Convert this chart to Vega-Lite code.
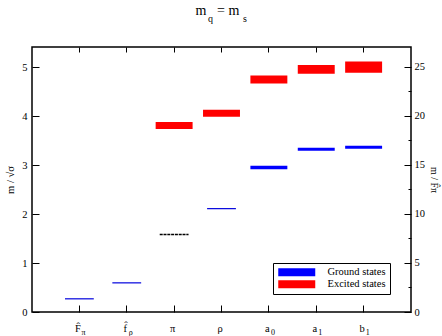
{
  "$schema": "https://vega.github.io/schema/vega-lite/v6.json",
  "width": 379,
  "height": 265,
  "autosize": {"type": "none"},
  "padding": {"left": 32, "top": 47, "right": 31, "bottom": 24},
  "background": "white",
  "config": {
    "font": "Liberation Serif",
    "view": {"stroke": "black", "strokeWidth": 1.5},
    "axis": {
      "grid": false,
      "domain": false,
      "ticks": true,
      "tickColor": "black",
      "tickWidth": 1,
      "labelColor": "black",
      "labelFont": "Liberation Serif",
      "labelFontSize": 10.5,
      "titleFont": "Liberation Serif",
      "titleFontSize": 10.5,
      "titleFontWeight": "normal",
      "titleColor": "black"
    }
  },
  "datasets": {
    "bands": [
      {"c": "a0", "state": "Ground states", "lo": 2.912, "hi": 2.987},
      {"c": "a1", "state": "Ground states", "lo": 3.293, "hi": 3.354},
      {"c": "b1", "state": "Ground states", "lo": 3.334, "hi": 3.395},
      {"c": "pi", "state": "Excited states", "lo": 3.736, "hi": 3.879},
      {"c": "rho", "state": "Excited states", "lo": 3.987, "hi": 4.13},
      {"c": "a0", "state": "Excited states", "lo": 4.666, "hi": 4.829},
      {"c": "a1", "state": "Excited states", "lo": 4.863, "hi": 5.041},
      {"c": "b1", "state": "Excited states", "lo": 4.886, "hi": 5.114}
    ],
    "lines": [
      {"c": "Fpi", "m": 0.269, "style": "solid"},
      {"c": "frho", "m": 0.595, "style": "solid"},
      {"c": "pi", "m": 1.58, "style": "dotted"},
      {"c": "rho", "m": 2.11, "style": "solid"}
    ],
    "labels": [
      {"c": "Fpi", "main": "F̂", "sub": "π"},
      {"c": "frho", "main": "f̂", "sub": "ρ"},
      {"c": "pi", "main": "π", "sub": ""},
      {"c": "rho", "main": "ρ", "sub": ""},
      {"c": "a0", "main": "a", "sub": "0"},
      {"c": "a1", "main": "a", "sub": "1"},
      {"c": "b1", "main": "b", "sub": "1"}
    ]
  },
  "layer": [
    {
      "layer": [
        {
          "data": {"name": "bands"},
          "mark": {"type": "bar"},
          "encoding": {
            "x": {
              "field": "c",
              "type": "nominal",
              "scale": {"domain": ["Fpi", "frho", "pi", "rho", "a0", "a1", "b1"], "paddingInner": 0.22, "paddingOuter": 0.61},
              "axis": {"title": null, "labels": false, "ticks": true, "tickSize": -7, "tickBand": "center"}
            },
            "y": {
              "field": "lo",
              "type": "quantitative",
              "scale": {"domain": [0, 5.41], "nice": false, "zero": false},
              "axis": {
                "title": "m / √σ",
                "values": [0, 0.5, 1, 1.5, 2, 2.5, 3, 3.5, 4, 4.5, 5],
                "labelExpr": "datum.value % 1 == 0 ? datum.label : ''",
                "tickSize": {"condition": {"test": "datum.value % 1 != 0", "value": -3}, "value": -7},
                "labelPadding": 12,
                "titlePadding": 6
              }
            },
            "y2": {"field": "hi"},
            "color": {
              "field": "state",
              "type": "nominal",
              "scale": {"domain": ["Ground states", "Excited states"], "range": ["#0000ff", "#ff0000"]},
              "legend": {
                "title": null,
                "orient": "none",
                "legendX": 241,
                "legendY": 216,
                "symbolType": "M-1,-1H8.25V1H-1Z",
                "symbolSize": 64,
                "symbolStrokeWidth": 0,
                "symbolOpacity": 1,
                "labelFont": "Liberation Serif",
                "labelFontSize": 10.5,
                "labelColor": "black",
                "labelOffset": 40,
                "padding": 4,
                "rowPadding": 1,
                "strokeColor": "black",
                "fillColor": "white"
              }
            }
          }
        },
        {
          "data": {"name": "lines"},
          "transform": [{"filter": "datum.style == 'solid'"}],
          "mark": {"type": "rule", "color": "#0000dd", "strokeWidth": 1.2},
          "encoding": {
            "x": {"field": "c", "type": "nominal", "bandPosition": 0.11},
            "x2": {"field": "c", "bandPosition": 0.89},
            "y": {"field": "m", "type": "quantitative"}
          }
        },
        {
          "data": {"name": "lines"},
          "transform": [{"filter": "datum.style == 'dotted'"}],
          "mark": {"type": "rule", "color": "black", "strokeWidth": 1.5, "strokeDash": [3, 0.8]},
          "encoding": {
            "x": {"field": "c", "type": "nominal", "bandPosition": 0.11},
            "x2": {"field": "c", "bandPosition": 0.89},
            "y": {"field": "m", "type": "quantitative"}
          }
        },
        {
          "data": {"name": "labels"},
          "mark": {"type": "text", "fontSize": 10.5, "baseline": "alphabetic", "align": "center", "dx": -1.5, "dy": 20, "color": "black"},
          "encoding": {
            "x": {"field": "c", "type": "nominal"},
            "y": {"datum": 0, "type": "quantitative"},
            "text": {"field": "main"}
          }
        },
        {
          "data": {"name": "labels"},
          "mark": {"type": "text", "fontSize": 8, "baseline": "alphabetic", "align": "left", "dx": 2, "dy": 23, "color": "black"},
          "encoding": {
            "x": {"field": "c", "type": "nominal"},
            "y": {"datum": 0, "type": "quantitative"},
            "text": {"field": "sub"}
          }
        },
        {
          "data": {"values": [{"t": "m"}]},
          "mark": {"type": "text", "fontSize": 14, "baseline": "alphabetic", "align": "left", "dx": -26, "dy": -32, "color": "black"},
          "encoding": {
            "x": {"datum": "rho", "type": "nominal"},
            "y": {"datum": 5.41, "type": "quantitative"},
            "text": {"field": "t"}
          }
        },
        {
          "data": {"values": [{"t": "q"}]},
          "mark": {"type": "text", "fontSize": 10, "baseline": "alphabetic", "align": "left", "dx": -13.5, "dy": -25.5, "color": "black"},
          "encoding": {
            "x": {"datum": "rho", "type": "nominal"},
            "y": {"datum": 5.41, "type": "quantitative"},
            "text": {"field": "t"}
          }
        },
        {
          "data": {"values": [{"t": "= m"}]},
          "mark": {"type": "text", "fontSize": 14, "baseline": "alphabetic", "align": "left", "dx": -4.5, "dy": -32, "color": "black"},
          "encoding": {
            "x": {"datum": "rho", "type": "nominal"},
            "y": {"datum": 5.41, "type": "quantitative"},
            "text": {"field": "t"}
          }
        },
        {
          "data": {"values": [{"t": "s"}]},
          "mark": {"type": "text", "fontSize": 10, "baseline": "alphabetic", "align": "left", "dx": 21.5, "dy": -25.5, "color": "black"},
          "encoding": {
            "x": {"datum": "rho", "type": "nominal"},
            "y": {"datum": 5.41, "type": "quantitative"},
            "text": {"field": "t"}
          }
        }
      ]
    },
    {
      "data": {"name": "lines"},
      "mark": {"type": "point", "opacity": 0},
      "encoding": {
        "x": {
          "field": "c",
          "type": "nominal",
          "scale": {"domain": ["Fpi", "frho", "pi", "rho", "a0", "a1", "b1"], "paddingInner": 0.22, "paddingOuter": 0.61},
          "axis": {"orient": "top", "title": null, "labels": false, "ticks": true, "tickSize": -5, "tickBand": "center"}
        },
        "y": {
          "field": "m",
          "type": "quantitative",
          "scale": {"domain": [0, 27.04], "nice": false, "zero": false},
          "axis": {
            "orient": "right",
            "title": "m / F̂π",
            "titleFontSize": 10,
            "values": [0, 2.5, 5, 7.5, 10, 12.5, 15, 17.5, 20, 22.5, 25],
            "labelExpr": "datum.value % 5 == 0 ? datum.label : ''",
            "tickSize": {"condition": {"test": "datum.value % 5 != 0", "value": -3}, "value": -7},
            "labelPadding": 10,
            "titlePadding": 4
          }
        }
      }
    }
  ],
  "resolve": {"scale": {"x": "independent", "y": "independent"}}
}
